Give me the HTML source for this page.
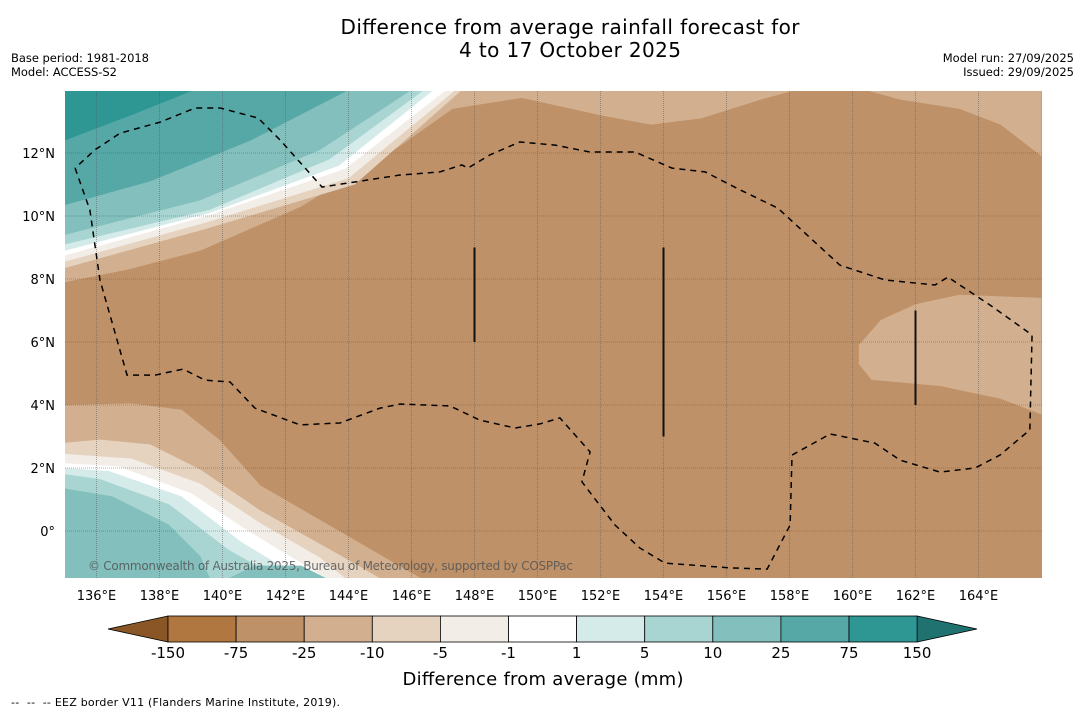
<!DOCTYPE html>
<html><head><meta charset="utf-8">
<style>
body{margin:0;background:#fff;width:1085px;height:713px;overflow:hidden;font-family:"DejaVu Sans","Liberation Sans",sans-serif;}
svg{display:block}
</style></head>
<body>
<svg id="chart" width="1085" height="713" xmlns="http://www.w3.org/2000/svg" font-family="DejaVu Sans, Liberation Sans, sans-serif">
<text x="570" y="34" text-anchor="middle" font-size="20" textLength="459">Difference from average rainfall forecast for</text>
<text x="570" y="57" text-anchor="middle" font-size="20" textLength="222">4 to 17 October 2025</text>
<text x="11" y="62" font-size="11.5" textLength="138">Base period: 1981-2018</text>
<text x="11" y="76" font-size="11.5" textLength="106">Model: ACCESS-S2</text>
<text x="1074" y="62" font-size="11.5" text-anchor="end">Model run: 27/09/2025</text>
<text x="1074" y="76" font-size="11.5" text-anchor="end">Issued: 29/09/2025</text>
<defs><clipPath id="mapclip"><rect x="65" y="91" width="977" height="487"/></clipPath></defs>
<g id="map" clip-path="url(#mapclip)"></g>
<g id="axes"></g>
<g id="cbar"></g>
<text x="543" y="685" text-anchor="middle" font-size="18" textLength="281">Difference from average (mm)</text>
<text x="11" y="706" font-size="11" textLength="329" xml:space="preserve">--  --  -- EEZ border V11 (Flanders Marine Institute, 2019).</text>
</svg>
<script>
const levels=["-150","-75","-25","-10","-5","-1","1","5","10","25","75","150"];
const levelColors=["#b07840","#bf9168","#d2b08f","#e5d3c0","#f3ede7","#ffffff","#d4ebe9","#a8d5d2","#82bfbd","#55a8a6","#2e9793"];
const lonTicks=[136,138,140,142,144,146,148,150,152,154,156,158,160,162,164];
const latTicks=[0,2,4,6,8,10,12];
const regionTopTan=[[135,7.9],[137,8.3],[139.3,8.9],[142.5,10.3],[145.6,12.2],[147.3,13.4],[149.5,13.75],[152,13.2],[153.6,12.9],[155.2,13.1],[157.1,13.7],[158.2,14],[135,14]];
const regionTopRightTan=[[160.4,14],[161.5,13.7],[163.4,13.4],[164.7,12.9],[166,11.9],[166,14]];
const regionRightTan=[[160.2,5.3],[160.2,5.9],[160.9,6.7],[162,7.2],[163.4,7.5],[166,7.4],[166,3.7],[164.7,4.2],[162.8,4.6],[160.6,4.8]];
const topBands=[
 [3,[[135,8.35],[139.5,9.6],[144.2,11.0],[147.6,14]]],
 [4,[[135,8.55],[139.5,9.8],[144.0,11.2],[147.4,14]]],
 [5,[[135,8.75],[139.5,10.0],[143.9,11.5],[147.1,14]]],
 [6,[[135,8.9],[139.6,10.1],[143.7,11.6],[146.7,14]]],
 [7,[[135,9.1],[139.6,10.2],[143.4,11.8],[146.4,14]]],
 [8,[[135,9.4],[139.3,10.5],[143.1,12.1],[146.0,14]]],
 [9,[[135,10.35],[137.7,11.1],[140.9,12.4],[144.0,14]]],
 [10,[[135,12.4],[137.1,13.2],[139.1,14]]]
];
const bottomBands=[
 [2,[[135,4.0],[137.1,4.05],[138.7,3.85],[139.9,2.9],[141.2,1.45],[143.1,0.35],[145,-0.75],[146.3,-1.5]]],
 [3,[[135,2.8],[136.1,2.9],[137.7,2.75],[139.3,1.95],[141.2,0.65],[143.7,-0.75],[145,-1.5]]],
 [4,[[135,2.45],[137.1,2.3],[139.3,1.5],[141.2,0.25],[143.1,-0.85],[143.9,-1.5]]],
 [5,[[135,2.15],[136.7,2.05],[139,1.2],[140.9,-0.05],[142.8,-1.2],[143.3,-1.5]]],
 [6,[[135,2.0],[136.4,1.9],[138.7,1.1],[140.6,-0.35],[142.5,-1.5]]],
 [7,[[135,1.8],[136.1,1.65],[138.3,0.85],[140.2,-0.6],[141.8,-1.5]]],
 [8,[[135,1.35],[136.5,1.1],[138.3,0.2],[139.3,-0.8],[139.6,-1.5]]]
];
const bottomPatch=[[140.2,-1.5],[141,-1.1],[142.5,-1.1],[143.3,-1.5]];
const eez=[[135.32,11.52],[135.79,10.19],[136.11,7.97],[136.97,4.95],[137.86,4.95],[138.75,5.14],[139.44,4.79],[140.24,4.73],[141.03,3.9],[142.46,3.37],[143.73,3.43],[145.0,3.9],[145.63,4.03],[147.22,3.97],[148.17,3.52],[149.29,3.27],[150.08,3.4],[150.71,3.59],[151.67,2.51],[151.41,1.56],[152.46,0.19],[153.25,-0.54],[154.05,-1.02],[156.11,-1.17],[157.29,-1.21],[158.02,0.19],[158.08,2.41],[159.29,3.08],[160.71,2.79],[161.51,2.25],[162.78,1.87],[163.89,2.0],[164.68,2.41],[165.63,3.21],[165.7,6.22],[165.48,6.38],[164.37,7.17],[163.03,8.06],[162.62,7.81],[161.03,7.97],[159.6,8.44],[157.63,10.25],[156.43,10.83],[155.32,11.4],[154.27,11.52],[153.1,12.03],[151.67,12.03],[150.56,12.25],[149.44,12.35],[148.49,11.94],[147.79,11.52],[147.6,11.62],[146.9,11.4],[145.63,11.3],[143.16,10.92],[141.83,12.41],[141.13,13.11],[139.92,13.43],[139.13,13.43],[138.02,12.98],[136.75,12.63],[135.95,12.1],[135.32,11.52]];
const segLons=[148,154,162];
const segLat0=[6,3,4];
const segLat1=[9,9,7];

const NS='http://www.w3.org/2000/svg';
const X=lon=>65+(lon-135)*31.5;
const Y=lat=>531-lat*31.5;
function mk(tag,attrs,parent){const e=document.createElementNS(NS,tag);for(const k in attrs)e.setAttribute(k,attrs[k]);parent.appendChild(e);return e;}
const map=document.getElementById('map');
const bg=mk('rect',{x:65,y:91,width:977,height:487,fill:levelColors[1]},map);


function poly(pts,ci,name){const p=mk('polygon',{points:pts.map(q=>X(q[0])+','+Y(q[1])).join(' '),fill:levelColors[ci]},map);

}
poly(regionTopTan,2,'contour-top-light-tan');
poly(regionTopRightTan,2,'contour-top-right-light-tan');
poly(regionRightTan,2,'contour-right-light-tan');
topBands.forEach(b=>poly(b[1].concat([[135,14]]),b[0],'contour-top-band'));
bottomBands.forEach(b=>poly(b[1].concat([[135,-1.5]]),b[0],'contour-bottom-band'));
poly(bottomPatch,8,'contour-bottom-teal-patch');
lonTicks.forEach(l=>{const g=mk('line',{x1:X(l),x2:X(l),y1:91,y2:578,stroke:'#555','stroke-width':0.8,'stroke-dasharray':'1,1',opacity:0.6},map);

});
latTicks.forEach(l=>{const g=mk('line',{x1:65,x2:1042,y1:Y(l),y2:Y(l),stroke:'#555','stroke-width':0.8,'stroke-dasharray':'1,1',opacity:0.6},map);

});
const ez=mk('polyline',{points:eez.map(q=>X(q[0])+','+Y(q[1])).join(' '),fill:'none',stroke:'#000','stroke-width':1.5,'stroke-dasharray':'6,5'},map);


segLons.forEach((l,i)=>{const s=mk('line',{x1:X(l),x2:X(l),y1:Y(segLat1[i]),y2:Y(segLat0[i]),stroke:'#111','stroke-width':2},map);

});
const cp=mk('text',{x:88,y:570,'font-size':12,fill:'#555',opacity:0.85,textLength:485},map);
cp.textContent='© Commonwealth of Australia 2025, Bureau of Meteorology, supported by COSPPac';


const ax=document.getElementById('axes');
lonTicks.forEach(l=>{const t=mk('text',{x:X(l),y:600,'text-anchor':'middle','font-size':13},ax);t.textContent=l+'°E';

});
latTicks.forEach(l=>{const t=mk('text',{x:55,y:Y(l)+5,'text-anchor':'end','font-size':13},ax);t.textContent=l===0?'0°':l+'°N';

});
const cb=document.getElementById('cbar');
const bx0=168,bw=68.1,by=616,bh=26;
const lt=mk('polygon',{points:`108,629 ${bx0},${by} ${bx0},${by+bh}`,fill:'#8a5626',stroke:'#000','stroke-width':0.8},cb);


const rt=mk('polygon',{points:`977,629 ${bx0+11*bw},${by} ${bx0+11*bw},${by+bh}`,fill:'#1f7270',stroke:'#000','stroke-width':0.8},cb);


levelColors.forEach((c,i)=>{const r=mk('rect',{x:bx0+i*bw,y:by,width:bw,height:bh,fill:c,stroke:'#000','stroke-width':0.8},cb);

});
levels.forEach((v,i)=>{const t=mk('text',{x:bx0+i*bw,y:658,'text-anchor':'middle','font-size':15},cb);t.textContent=v;

});
</script>
</body></html>
